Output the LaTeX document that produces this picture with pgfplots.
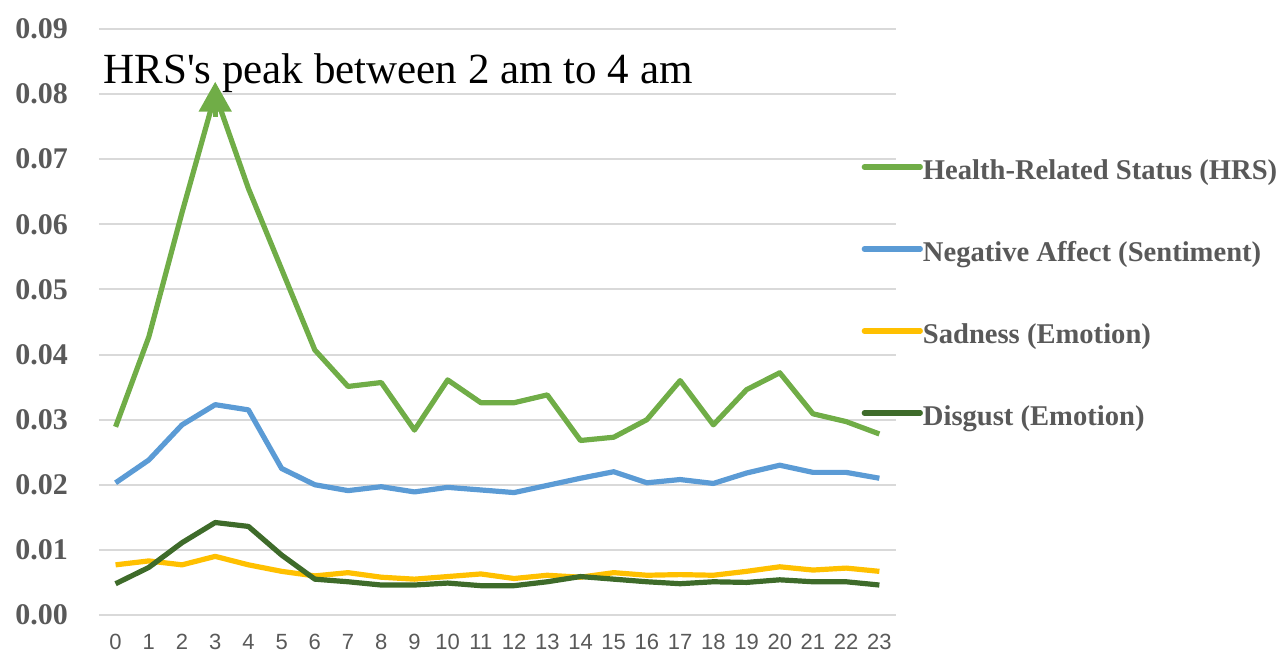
\documentclass[border=0pt]{standalone}
\usepackage{fontspec}
\setmainfont{Liberation Serif}
\newfontfamily\tickfont{Liberation Sans}
\usepackage{pgfplots}
\pgfplotsset{compat=1.18}
\usetikzlibrary{arrows.meta}
\definecolor{hrs}{HTML}{70AD47}
\definecolor{neg}{HTML}{5B9BD5}
\definecolor{sad}{HTML}{FFC000}
\definecolor{dis}{HTML}{3E6B2A}
\definecolor{txt}{HTML}{595959}
\definecolor{grd}{HTML}{D9D9D9}
\begin{document}
\begin{tikzpicture}
\begin{axis}[
  scale only axis, width=398.5pt, height=293pt,
  xmin=-0.5, xmax=23.5, ymin=0, ymax=0.09,
  axis line style={draw=none},
  major tick length=0pt,
  scaled y ticks=false,
  xtick={0,...,23},
  ytick={0,0.01,0.02,0.03,0.04,0.05,0.06,0.07,0.08,0.09},
  yticklabels={0.00,0.01,0.02,0.03,0.04,0.05,0.06,0.07,0.08,0.09},
  ymajorgrids,
  grid style={grd, line width=1pt},
  /pgf/number format/assume math mode=true,
  xticklabel style={font=\tickfont\fontsize{11}{11}\selectfont, text=txt, yshift=-6pt},
  yticklabel style={font=\fontsize{15}{15}\selectfont\bfseries, text=txt, xshift=-12pt},
  clip=false,
  legend style={at={(rel axis cs:0.957,0.7765)}, anchor=north west, draw=none, fill=none,
    inner sep=0pt, outer sep=0pt, font=\fontsize{14.3}{14.3}\selectfont\bfseries, text=txt,
    row sep=27pt, nodes={inner sep=0pt, text height=10pt, text depth=4pt}},
  legend cell align=left,
  legend image code/.code={\draw[#1, line cap=round] (0pt,3.5pt) -- (28pt,3.5pt);},
  every axis plot/.append style={line width=2.6pt, line join=round},
]
\addplot[hrs] coordinates {
(0,0.0289) (1,0.0427) (2,0.0618) (3,0.0800) (4,0.0655) (5,0.0531) (6,0.0407)
(7,0.0351) (8,0.0357) (9,0.0284) (10,0.0361) (11,0.0326) (12,0.0326) (13,0.0338)
(14,0.0268) (15,0.0273) (16,0.0300) (17,0.0360) (18,0.0292) (19,0.0346)
(20,0.0372) (21,0.0309) (22,0.0297) (23,0.0278)};
\addlegendentry{Health-Related Status (HRS)}
\addplot[neg] coordinates {
(0,0.0203) (1,0.0238) (2,0.0292) (3,0.0323) (4,0.0315) (5,0.0225) (6,0.0200)
(7,0.0191) (8,0.0197) (9,0.0189) (10,0.0196) (11,0.0192) (12,0.0188) (13,0.0199)
(14,0.0210) (15,0.0220) (16,0.0203) (17,0.0208) (18,0.0202) (19,0.0218)
(20,0.0230) (21,0.0219) (22,0.0219) (23,0.0210)};
\addlegendentry{Negative Affect (Sentiment)}
\addplot[sad] coordinates {
(0,0.0077) (1,0.0083) (2,0.0077) (3,0.0090) (4,0.0077) (5,0.0067) (6,0.0060)
(7,0.0065) (8,0.0058) (9,0.0055) (10,0.0059) (11,0.0063) (12,0.0056) (13,0.0061)
(14,0.0058) (15,0.0065) (16,0.0061) (17,0.0062) (18,0.0061) (19,0.0067)
(20,0.0074) (21,0.0069) (22,0.0072) (23,0.0067)};
\addlegendentry{Sadness (Emotion)}
\addplot[dis] coordinates {
(0,0.0048) (1,0.0073) (2,0.0111) (3,0.0142) (4,0.0136) (5,0.0092) (6,0.0055)
(7,0.0051) (8,0.0046) (9,0.0046) (10,0.0049) (11,0.0045) (12,0.0045) (13,0.0051)
(14,0.0059) (15,0.0055) (16,0.0051) (17,0.0048) (18,0.0051) (19,0.0050)
(20,0.0054) (21,0.0051) (22,0.0051) (23,0.0046)};
\addlegendentry{Disgust (Emotion)}
\draw[hrs, line width=2.6pt, line cap=butt, -{Triangle[length=15pt,width=16pt]}] (axis cs:3,0.0765) -- (axis cs:3,0.0819);
\node[anchor=base west, inner sep=0pt, font=\fontsize{21.5}{21.5}\selectfont, xshift=2pt]
  at (axis cs:-0.5,0.0817) {HRS\textquotesingle s peak between 2 am to 4 am};
\coordinate (bbl) at (rel axis cs:-0.1242,-0.0648);
\coordinate (btr) at (rel axis cs:1.4831,1.0495);
\end{axis}
\pgfresetboundingbox
\useasboundingbox (bbl) rectangle (btr);
\end{tikzpicture}
\end{document}
